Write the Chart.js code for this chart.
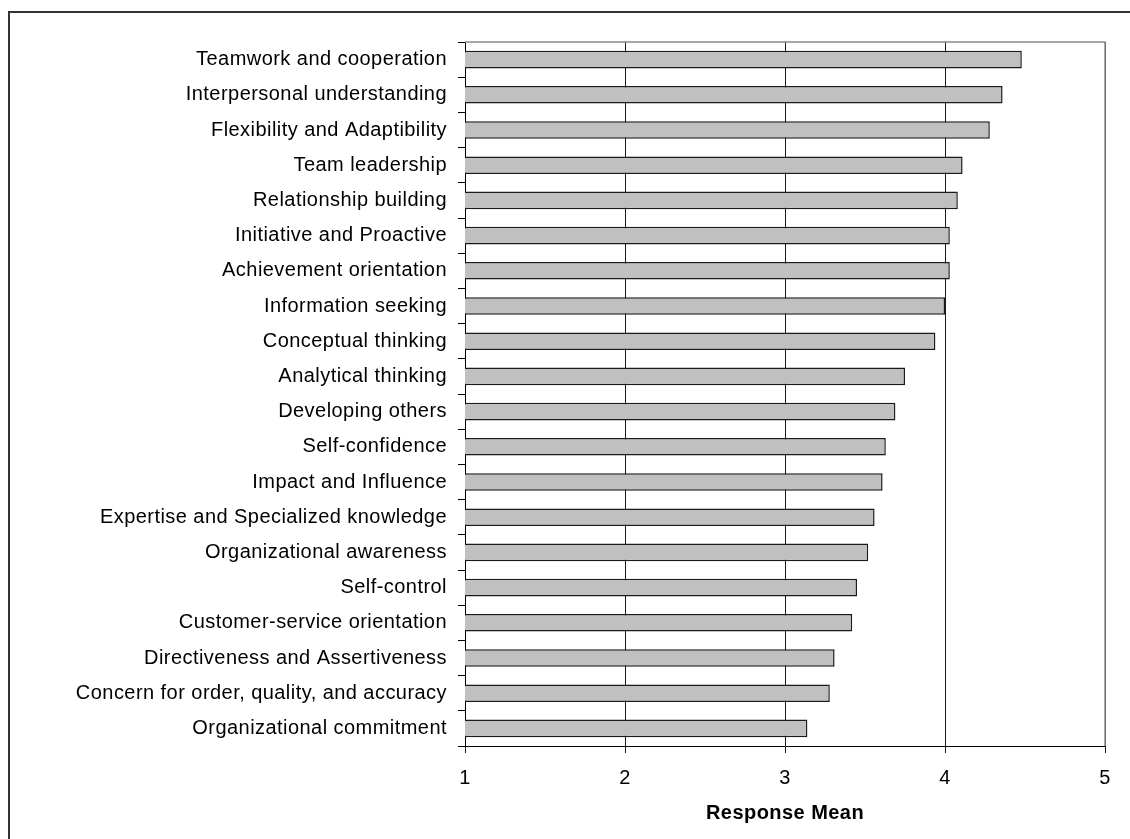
<!DOCTYPE html>
<html>
<head>
<meta charset="utf-8">
<title>Competency Response Means</title>
<script src="https://cdn.jsdelivr.net/npm/chart.js@4.4.1/dist/chart.umd.min.js"></script>
<style>
    html, body { margin: 0; padding: 0; background: #fff; }
    canvas { display: block; }
</style>
</head>
<body>
<canvas id="chart" width="1130" height="839"></canvas>
<script>
// Competencies, top to bottom
const competencies = [
    "Teamwork and cooperation",
    "Interpersonal understanding",
    "Flexibility and Adaptibility",
    "Team leadership",
    "Relationship building",
    "Initiative and Proactive",
    "Achievement orientation",
    "Information seeking",
    "Conceptual thinking",
    "Analytical thinking",
    "Developing others",
    "Self-confidence",
    "Impact and Influence",
    "Expertise and Specialized knowledge",
    "Organizational awareness",
    "Self-control",
    "Customer-service orientation",
    "Directiveness and Assertiveness",
    "Concern for order, quality, and accuracy",
    "Organizational commitment"
];

// Mean response for each competency
const responseMeans = [
    4.48, 4.36, 4.28, 4.11, 4.08, 4.03, 4.03, 4.00, 3.94, 3.75,
    3.69, 3.63, 3.61, 3.56, 3.52, 3.45, 3.42, 3.31, 3.28, 3.14
];

// Scale range for the response axis
const scaleMin = 1;
const scaleMax = 5;
const axisTitle = "Response Mean";

const FONT = "'Liberation Sans', Arial, sans-serif";

// Slightly wider text, applied before measuring and before painting
const spacingPlugin = {
    id: "spacing",
    beforeLayout(chart) { chart.ctx.letterSpacing = "0.45px"; },
    beforeDraw(chart) { chart.ctx.letterSpacing = "0.45px"; }
};

// Outer frame (top and left edges) plus the grey plot border on top / right
const framePlugin = {
    id: "frame",
    beforeDraw(chart) {
        const ctx = chart.ctx;
        ctx.save();
        ctx.fillStyle = "#fff";
        ctx.fillRect(0, 0, chart.width, chart.height);
        ctx.strokeStyle = "#333";
        ctx.lineWidth = 2;
        ctx.beginPath();
        ctx.moveTo(9, chart.height);
        ctx.lineTo(9, 12);
        ctx.lineTo(chart.width, 12);
        ctx.stroke();
        ctx.restore();
    },
    afterDraw(chart) {
        const { ctx, chartArea } = chart;
        ctx.save();
        ctx.strokeStyle = "#8c8c8c";
        ctx.lineWidth = 1.5;
        ctx.beginPath();
        ctx.moveTo(chartArea.left, chartArea.top);
        ctx.lineTo(chartArea.right, chartArea.top);
        ctx.lineTo(chartArea.right, chartArea.bottom);
        ctx.stroke();
        ctx.restore();
    }
};

new Chart(document.getElementById("chart"), {
    type: "bar",
    data: {
        labels: competencies,
        datasets: [{
            data: responseMeans,
            backgroundColor: "#c0c0c0",
            borderColor: "#1a1a1a",
            borderWidth: 1.5,
            borderSkipped: false,
            barPercentage: 0.5,
            categoryPercentage: 1
        }]
    },
    options: {
        indexAxis: "y",
        responsive: false,
        animation: false,
        layout: { padding: { top: 42, right: 25, left: 0, bottom: 0 } },
        plugins: {
            legend: { display: false },
            tooltip: { enabled: false }
        },
        scales: {
            x: {
                min: scaleMin,
                max: scaleMax,
                afterFit: (scale) => { scale.height = 93; },
                border: { color: "#000", width: 1 },
                grid: {
                    color: "#1a1a1a",
                    lineWidth: 1,
                    tickLength: 7
                },
                ticks: {
                    stepSize: 1,
                    padding: 13,
                    color: "#000",
                    font: { family: FONT, size: 20 }
                },
                title: {
                    display: true,
                    text: axisTitle,
                    color: "#000",
                    font: { family: FONT, size: 20, weight: "bold" },
                    padding: { top: 0, bottom: 14 }
                }
            },
            y: {
                afterFit: (scale) => { scale.width = 465; },
                border: { color: "#000", width: 1 },
                grid: {
                    drawOnChartArea: false,
                    color: "#000",
                    tickLength: 7
                },
                ticks: {
                    padding: 11,
                    color: "#000",
                    autoSkip: false,
                    font: { family: FONT, size: 20 }
                }
            }
        }
    },
    plugins: [spacingPlugin, framePlugin]
});
</script>
</body>
</html>
